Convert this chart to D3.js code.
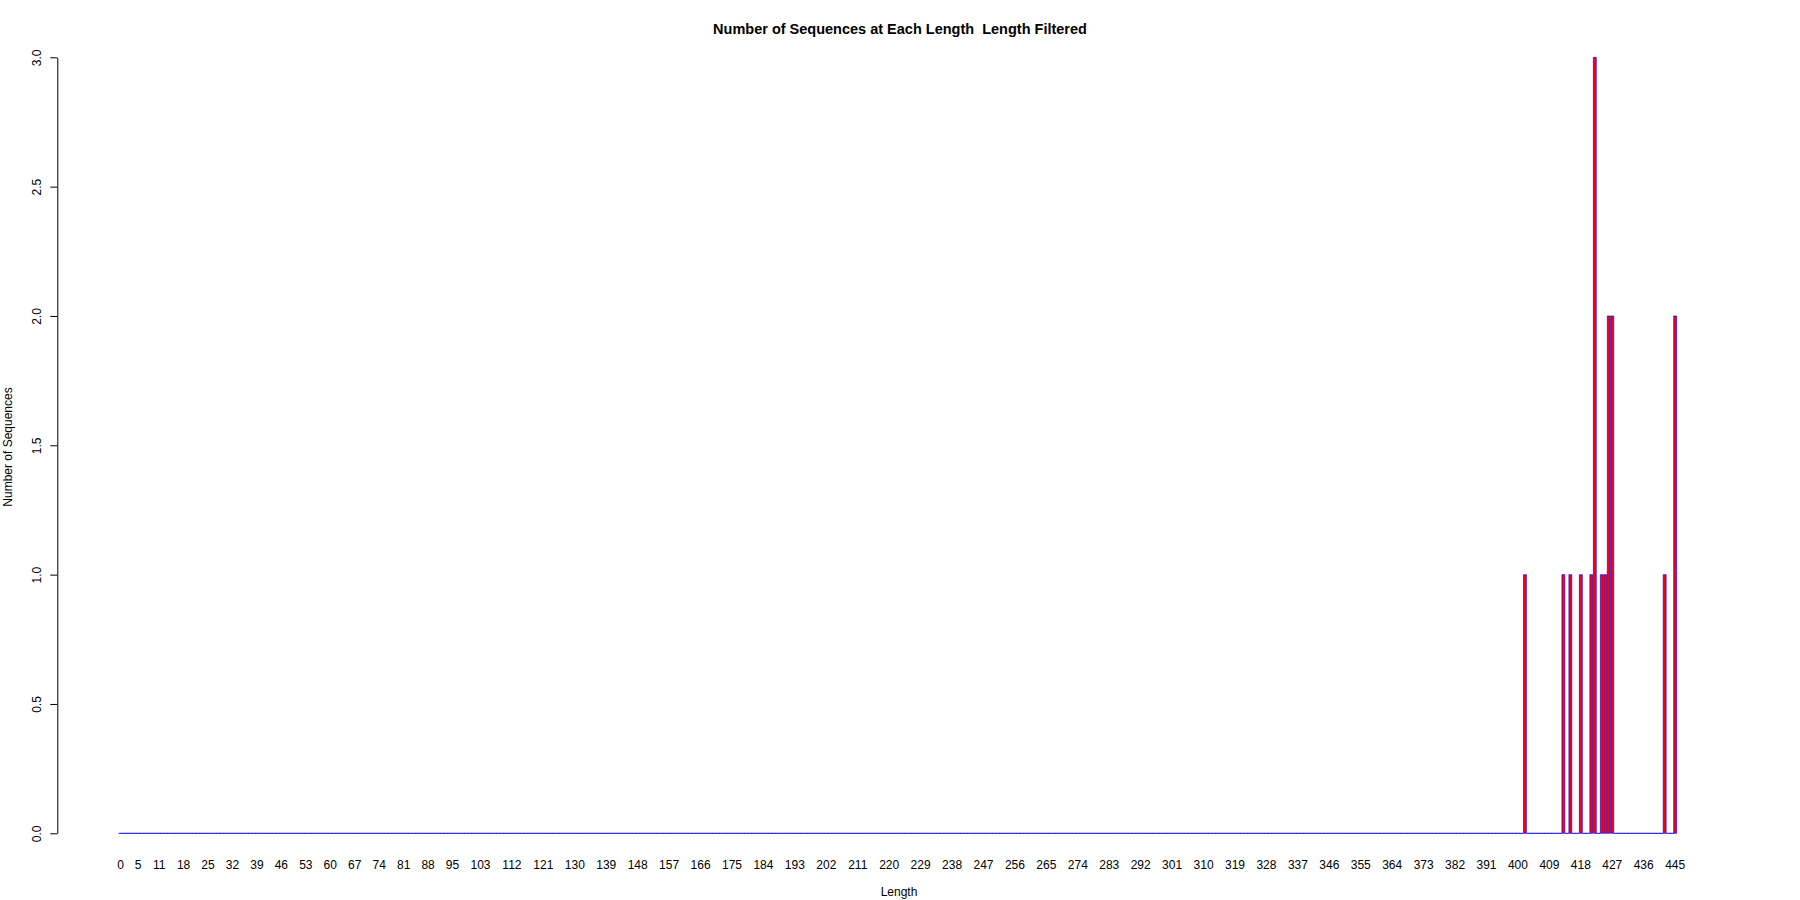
<!DOCTYPE html>
<html>
<head>
<meta charset="utf-8">
<script src="https://cdn.jsdelivr.net/npm/d3@7"></script>
<style>
  html, body { margin: 0; padding: 0; background: #ffffff; }
  svg { display: block; }
  text { font-family: "Liberation Sans", Arial, Helvetica, sans-serif; fill: #000; white-space: pre; }
</style>
</head>
<body>
<svg id="chart" width="1800" height="900"></svg>
<script>
// ---- data ----
const minLength = 0;
const maxLength = 445;
// lengths that have at least one sequence, and their counts (all other lengths have 0)
const observedLengths = [402, 413, 415, 418, 421, 422, 424, 425, 426, 427, 442, 445];
const observedCounts  = [1,   1,   1,   1,   1,   3,   1,   1,   2,   2,   1,   2];
// tick labels R kept after skipping overlapping ones
const xTickLabels = [0, 5, 11, 18, 25, 32, 39, 46, 53, 60, 67, 74, 81, 88, 95,
  103, 112, 121, 130, 139, 148, 157, 166, 175, 184, 193, 202, 211, 220, 229,
  238, 247, 256, 265, 274, 283, 292, 301, 310, 319, 328, 337, 346, 355, 364,
  373, 382, 391, 400, 409, 418, 427, 436, 445];
const yTicks = [0, 0.5, 1, 1.5, 2, 2.5, 3];
const titleText = "Number of Sequences at Each Length  Length Filtered";
const xLabel = "Length";
const yLabel = "Number of Sequences";

// ---- build table ----
const categories = d3.range(minLength, maxLength + 1);
const countMap = new Map(observedLengths.map((l, i) => [l, observedCounts[i]]));
const table = categories.map(c => ({ len: c, n: countMap.get(c) || 0 }));

// ---- layout ----
const svg = d3.select("#chart");
const barsLeft = 118.95, barsRight = 1676.9;
const x = d3.scaleBand()
  .domain(categories)
  .range([barsLeft, barsRight])
  .paddingInner(0.2 / 1.2)
  .paddingOuter(0.1 / 1.2);
const y = d3.scaleLinear().domain([0, 3]).range([833.3, 57.3]);

// zero-height bars: only their border shows, as a line on the baseline
svg.append("g")
  .selectAll("path")
  .data(table.filter(d => d.n === 0))
  .join("path")
  .attr("d", d => `M${x(d.len)},${y(0)}H${x(d.len) + x.bandwidth()}`)
  .attr("fill", "none")
  .attr("stroke", "#0000ff")
  .attr("stroke-width", 1)
  .attr("stroke-linecap", "square");

// non-zero bars
svg.append("g")
  .selectAll("path")
  .data(table.filter(d => d.n > 0))
  .join("path")
  .attr("d", d => {
    const x0 = x(d.len), x1 = x(d.len) + x.bandwidth();
    const y0 = y(0), y1 = y(d.n);
    return `M${x0},${y0}H${x1}V${y1}H${x0}Z`;
  })
  .attr("fill", "#ff0000")
  .attr("stroke", "#0000ff")
  .attr("stroke-width", 0.65);

// y axis
const axisX = 57.3;
const yAxis = d3.axisLeft(y).tickValues(yTicks).tickFormat(d3.format(".1f"))
  .tickSize(7).tickSizeOuter(0);
const gy = svg.append("g").attr("transform", `translate(${axisX},0)`).call(yAxis);
gy.select(".domain").attr("stroke", "#000").attr("stroke-width", 1);
gy.selectAll(".tick line").attr("stroke", "#000");
gy.selectAll(".tick text")
  .attr("x", null).attr("dy", null)
  .attr("text-anchor", "middle")
  .attr("font-size", 12)
  .attr("font-family", "Liberation Sans, Arial, sans-serif")
  .attr("transform", "translate(-16.8,0) rotate(-90)");

// x tick labels (no axis line, as in R barplot)
svg.append("g")
  .selectAll("text")
  .data(xTickLabels)
  .join("text")
  .attr("x", d => x(d) + x.bandwidth() / 2)
  .attr("y", 868.5)
  .attr("text-anchor", "middle")
  .attr("font-size", 12)
  .text(d => d);

// title
svg.append("text")
  .attr("x", 900).attr("y", 34)
  .attr("text-anchor", "middle")
  .attr("font-size", 14.5)
  .attr("font-weight", "bold")
  .attr("xml:space", "preserve")
  .text(titleText);

// axis titles
svg.append("text")
  .attr("x", 899).attr("y", 895.5)
  .attr("text-anchor", "middle")
  .attr("font-size", 12)
  .text(xLabel);
svg.append("text")
  .attr("transform", "translate(12,447) rotate(-90)")
  .attr("text-anchor", "middle")
  .attr("font-size", 12)
  .text(yLabel);
</script>
</body>
</html>
